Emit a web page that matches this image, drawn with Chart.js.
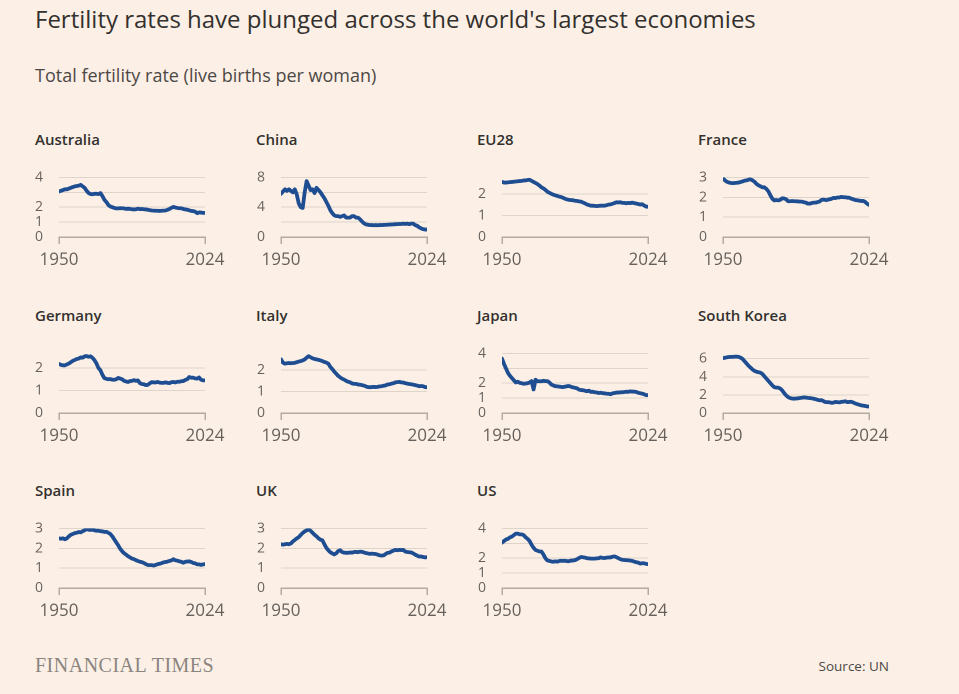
<!DOCTYPE html>
<html><head><meta charset="utf-8">
<script src="https://cdn.jsdelivr.net/npm/chart.js@4.4.1/dist/chart.umd.min.js"></script>
<style>
html,body{margin:0;padding:0;background:#fcf0e6;}
body{width:959px;height:694px;position:relative;overflow:hidden;font-family:"Open Sans",Lato,sans-serif;}
.t{position:absolute;white-space:nowrap;line-height:1;}
#title{left:35px;top:7px;font-size:24px;color:#33302e;}
#sub{left:35px;top:65.7px;font-size:18px;color:#4d4845;}
.pt{font-size:15px;font-weight:600;color:#33302e;}
canvas{position:absolute;}
#ft{left:35px;top:655px;font-family:"Liberation Serif",serif;font-size:20px;color:#8b8580;letter-spacing:0.5px;}
#src{right:70px;top:660px;font-size:13.5px;color:#4d4845;}
</style></head><body>
<div id="title" class="t">Fertility rates have plunged across the world's largest economies</div>
<div id="sub" class="t">Total fertility rate (live births per woman)</div>
<div id="ft" class="t">FINANCIAL TIMES</div>
<div id="src" class="t">Source: UN</div>
<script>
const YEARS = [1950,1951,1952,1953,1954,1955,1956,1957,1958,1959,1960,1961,1962,1963,1964,1965,1966,1967,1968,1969,1970,1971,1972,1973,1974,1975,1976,1977,1978,1979,1980,1981,1982,1983,1984,1985,1986,1987,1988,1989,1990,1991,1992,1993,1994,1995,1996,1997,1998,1999,2000,2001,2002,2003,2004,2005,2006,2007,2008,2009,2010,2011,2012,2013,2014,2015,2016,2017,2018,2019,2020,2021,2022,2023,2024];
const COUNTRIES = ['Australia','China','EU28','France','Germany','Italy','Japan','South Korea','Spain','UK','US'];

const australia = [3.06,3.1,3.15,3.2,3.2,3.25,3.3,3.35,3.4,3.42,3.45,3.5,3.4,3.3,3.1,2.95,2.88,2.87,2.9,2.9,2.88,2.95,2.75,2.5,2.35,2.15,2.05,2.0,1.95,1.92,1.92,1.94,1.93,1.92,1.88,1.9,1.88,1.86,1.85,1.86,1.9,1.87,1.88,1.86,1.85,1.83,1.8,1.78,1.77,1.76,1.76,1.75,1.76,1.77,1.78,1.83,1.88,1.96,2.02,1.98,1.95,1.93,1.93,1.88,1.85,1.83,1.79,1.75,1.74,1.7,1.6,1.65,1.64,1.62,1.62];
const china = [5.8,6.1,6.4,6.2,6.4,6.2,6.0,6.4,5.7,4.5,4.0,3.9,6.0,7.5,6.9,6.3,6.4,5.9,6.6,6.3,6.0,5.6,5.2,4.7,4.2,3.6,3.2,2.9,2.8,2.8,2.7,2.8,2.9,2.6,2.6,2.6,2.8,2.8,2.6,2.6,2.4,2.1,1.85,1.7,1.65,1.6,1.6,1.58,1.6,1.58,1.6,1.6,1.62,1.63,1.65,1.67,1.68,1.7,1.72,1.73,1.75,1.75,1.8,1.75,1.8,1.72,1.8,1.8,1.6,1.5,1.3,1.16,1.05,1.0,1.0];
const eu28 = [2.55,2.52,2.52,2.53,2.54,2.55,2.56,2.57,2.58,2.59,2.6,2.62,2.62,2.64,2.65,2.6,2.55,2.5,2.45,2.38,2.3,2.25,2.18,2.1,2.05,2.0,1.96,1.93,1.9,1.87,1.85,1.81,1.77,1.74,1.72,1.71,1.7,1.68,1.67,1.65,1.64,1.6,1.56,1.51,1.48,1.45,1.45,1.44,1.43,1.44,1.45,1.45,1.45,1.47,1.5,1.51,1.54,1.57,1.61,1.6,1.61,1.58,1.58,1.56,1.58,1.57,1.59,1.57,1.55,1.53,1.5,1.52,1.46,1.41,1.4];
const france = [2.95,2.85,2.78,2.74,2.72,2.71,2.72,2.73,2.74,2.77,2.8,2.84,2.85,2.89,2.9,2.85,2.78,2.67,2.6,2.55,2.5,2.5,2.42,2.3,2.1,1.93,1.84,1.86,1.84,1.87,1.95,1.94,1.9,1.8,1.8,1.81,1.8,1.8,1.79,1.78,1.78,1.75,1.73,1.68,1.68,1.71,1.73,1.73,1.76,1.79,1.87,1.88,1.86,1.87,1.9,1.92,1.97,1.96,1.99,1.99,2.02,2.0,2.0,1.98,1.98,1.93,1.9,1.86,1.85,1.83,1.81,1.82,1.77,1.68,1.62];
const germany = [2.18,2.14,2.12,2.12,2.16,2.2,2.26,2.32,2.36,2.4,2.42,2.47,2.46,2.52,2.53,2.5,2.52,2.45,2.35,2.2,2.0,1.9,1.7,1.55,1.52,1.5,1.51,1.48,1.48,1.5,1.56,1.53,1.5,1.43,1.4,1.38,1.42,1.43,1.46,1.43,1.45,1.33,1.29,1.28,1.24,1.25,1.32,1.37,1.36,1.36,1.38,1.35,1.34,1.34,1.36,1.34,1.33,1.37,1.38,1.36,1.39,1.39,1.41,1.42,1.47,1.5,1.6,1.57,1.57,1.54,1.53,1.58,1.48,1.45,1.45];
const italy = [2.5,2.35,2.3,2.32,2.33,2.32,2.33,2.34,2.37,2.4,2.42,2.45,2.5,2.58,2.65,2.6,2.55,2.52,2.5,2.48,2.45,2.42,2.38,2.35,2.3,2.15,2.05,1.93,1.83,1.73,1.66,1.6,1.56,1.5,1.46,1.43,1.38,1.36,1.36,1.33,1.32,1.3,1.28,1.24,1.21,1.2,1.21,1.22,1.21,1.22,1.24,1.25,1.27,1.29,1.33,1.34,1.37,1.39,1.43,1.44,1.45,1.43,1.42,1.39,1.37,1.35,1.34,1.32,1.3,1.28,1.25,1.26,1.25,1.21,1.2];
const japan = [3.65,3.3,3.0,2.7,2.5,2.35,2.2,2.05,2.1,2.02,2.0,1.96,1.98,2.0,2.05,2.14,1.58,2.23,2.13,2.13,2.13,2.16,2.14,2.14,2.05,1.91,1.85,1.8,1.79,1.77,1.75,1.74,1.77,1.8,1.81,1.76,1.72,1.69,1.66,1.57,1.54,1.53,1.5,1.46,1.5,1.42,1.43,1.39,1.38,1.34,1.36,1.33,1.32,1.29,1.29,1.26,1.32,1.34,1.37,1.37,1.39,1.39,1.41,1.43,1.42,1.45,1.44,1.43,1.42,1.36,1.33,1.3,1.26,1.2,1.2];
const southKorea = [6.05,6.1,6.15,6.18,6.2,6.2,6.22,6.22,6.2,6.1,5.95,5.7,5.45,5.2,5.0,4.8,4.65,4.55,4.5,4.45,4.3,4.05,3.8,3.55,3.3,3.05,2.85,2.8,2.8,2.7,2.5,2.2,1.95,1.75,1.65,1.6,1.58,1.6,1.62,1.65,1.68,1.72,1.7,1.67,1.65,1.62,1.57,1.52,1.45,1.4,1.42,1.3,1.2,1.2,1.18,1.12,1.15,1.22,1.2,1.17,1.23,1.25,1.3,1.2,1.22,1.24,1.17,1.05,0.98,0.92,0.84,0.81,0.78,0.72,0.72];
const spain = [2.5,2.48,2.5,2.45,2.5,2.6,2.68,2.72,2.76,2.78,2.82,2.8,2.86,2.9,2.98,2.93,2.92,2.94,2.9,2.88,2.88,2.86,2.85,2.82,2.83,2.78,2.72,2.6,2.45,2.3,2.15,1.98,1.85,1.75,1.68,1.6,1.54,1.48,1.45,1.4,1.36,1.32,1.3,1.26,1.2,1.16,1.15,1.15,1.13,1.16,1.2,1.22,1.25,1.29,1.31,1.33,1.36,1.39,1.45,1.39,1.38,1.34,1.32,1.27,1.32,1.33,1.34,1.31,1.26,1.24,1.19,1.19,1.16,1.19,1.2];
const uk = [2.2,2.18,2.2,2.22,2.2,2.24,2.34,2.42,2.5,2.56,2.67,2.77,2.85,2.9,2.95,2.88,2.78,2.68,2.6,2.5,2.43,2.4,2.2,2.02,1.9,1.8,1.74,1.69,1.75,1.86,1.9,1.81,1.78,1.77,1.77,1.79,1.78,1.81,1.82,1.8,1.83,1.82,1.79,1.76,1.74,1.72,1.73,1.72,1.71,1.68,1.64,1.63,1.64,1.71,1.77,1.78,1.84,1.88,1.92,1.9,1.92,1.91,1.92,1.83,1.81,1.8,1.79,1.74,1.68,1.63,1.58,1.59,1.56,1.54,1.55];
const us = [3.05,3.15,3.25,3.3,3.4,3.45,3.55,3.65,3.65,3.6,3.6,3.55,3.4,3.3,3.15,2.9,2.7,2.55,2.5,2.45,2.45,2.25,2.0,1.85,1.82,1.78,1.76,1.79,1.77,1.81,1.83,1.82,1.83,1.8,1.8,1.84,1.84,1.87,1.93,2.01,2.08,2.06,2.04,2.0,1.99,1.97,1.97,1.97,1.99,2.0,2.05,2.02,2.01,2.04,2.05,2.05,2.1,2.12,2.07,2.0,1.93,1.89,1.88,1.86,1.86,1.84,1.82,1.77,1.73,1.71,1.64,1.66,1.66,1.62,1.6];

const SERIES = [australia, china, eu28, france, germany, italy, japan, southKorea, spain, uk, us];
const Y_MAX = [4, 8, 2.76, 3, 2.65, 2.78, 4, 6.58, 3, 3, 4];
const GRID_VALUES = [[1,2,3,4],[2,4,6,8],[1,2],[1,2,3],[1,2],[1,2],[1,2,3,4],[2,4,6],[1,2,3],[1,2,3],[1,2,3,4]];
const TICK_LABELS = [[0,1,2,4],[0,4,8],[0,1,2],[0,1,2,3],[0,1,2],[0,1,2],[0,1,2,4],[0,2,4,6],[0,1,2,3],[0,1,2,3],[0,1,2,4]];
const X_TICKS = [1950, 2024];

// layout (page pixels)
const PLOT_LEFT = [59, 280.7, 501.7, 722.7];
const PLOT_W = 146;
const PLOT_TOP = [163, 338.5, 514.3];
const PLOT_H = 74;
const TITLE_X = [35, 256, 477, 698];
const TITLE_TOP = [131.7, 307.7, 483.4];
const Y_AXIS_W = 30, PAD_TOP = 10, PAD_RIGHT = 32, X_AXIS_H = 40;

const LINE_COLOR = '#1e4e91';
const GRID_COLOR = '#ded4ca';
const AXIS_COLOR = '#b3aaa2';
const TICK_COLOR = '#66605c';
const FONT = '"Open Sans", Lato, sans-serif';

SERIES.forEach((vals, i) => {
  const col = i % 4, row = Math.floor(i / 4);
  const cw = Y_AXIS_W + PLOT_W + PAD_RIGHT;
  const ch = PAD_TOP + PLOT_H + X_AXIS_H;
  const cv = document.createElement('canvas');
  cv.width = cw; cv.height = ch;
  cv.style.left = (PLOT_LEFT[col] - Y_AXIS_W) + 'px';
  cv.style.top = (PLOT_TOP[row] - PAD_TOP) + 'px';
  cv.style.width = cw + 'px'; cv.style.height = ch + 'px';
  document.body.appendChild(cv);

  const tt = document.createElement('div');
  tt.className = 't pt';
  tt.textContent = COUNTRIES[i];
  tt.style.left = TITLE_X[col] + 'px';
  tt.style.top = TITLE_TOP[row] + 'px';
  document.body.appendChild(tt);

  const grid = GRID_VALUES[i], labels = TICK_LABELS[i];
  new Chart(cv, {
    type: 'line',
    data: {
      datasets: [{
        data: YEARS.map((y, k) => ({x: y, y: vals[k]})),
        borderColor: LINE_COLOR,
        borderWidth: 3.8,
        pointRadius: 0,
        tension: 0,
        borderJoinStyle: 'round',
        borderCapStyle: 'round',
        fill: false
      }]
    },
    options: {
      responsive: false,
      animation: false,
      devicePixelRatio: 2,
      layout: {padding: {left: 0, top: PAD_TOP, right: PAD_RIGHT, bottom: 0}},
      plugins: {legend: {display: false}, tooltip: {enabled: false}, title: {display: false}},
      scales: {
        x: {
          type: 'linear', min: 1950, max: 2024,
          afterBuildTicks: s => { s.ticks = X_TICKS.map(v => ({value: v})); },
          afterFit: s => { s.height = X_AXIS_H; },
          border: {display: true, color: AXIS_COLOR, width: 1.5},
          grid: {display: true, drawOnChartArea: false, drawTicks: true, tickLength: 7, color: AXIS_COLOR, lineWidth: 1.5},
          ticks: {autoSkip: false, maxRotation: 0, padding: 6, color: TICK_COLOR, font: {family: FONT, size: 17}, callback: v => String(v)}
        },
        y: {
          min: 0, max: Y_MAX[i],
          afterBuildTicks: s => { s.ticks = [0].concat(grid).map(v => ({value: v})); },
          afterFit: s => { s.width = Y_AXIS_W; },
          border: {display: false},
          grid: {drawTicks: false, lineWidth: 1, color: c => (c.tick && c.tick.value === 0) ? 'rgba(0,0,0,0)' : GRID_COLOR},
          ticks: {autoSkip: false, padding: 16, color: TICK_COLOR, font: {family: FONT, size: 14}, callback: v => labels.includes(v) ? String(v) : ''}
        }
      }
    }
  });
});
</script>
</body></html>
